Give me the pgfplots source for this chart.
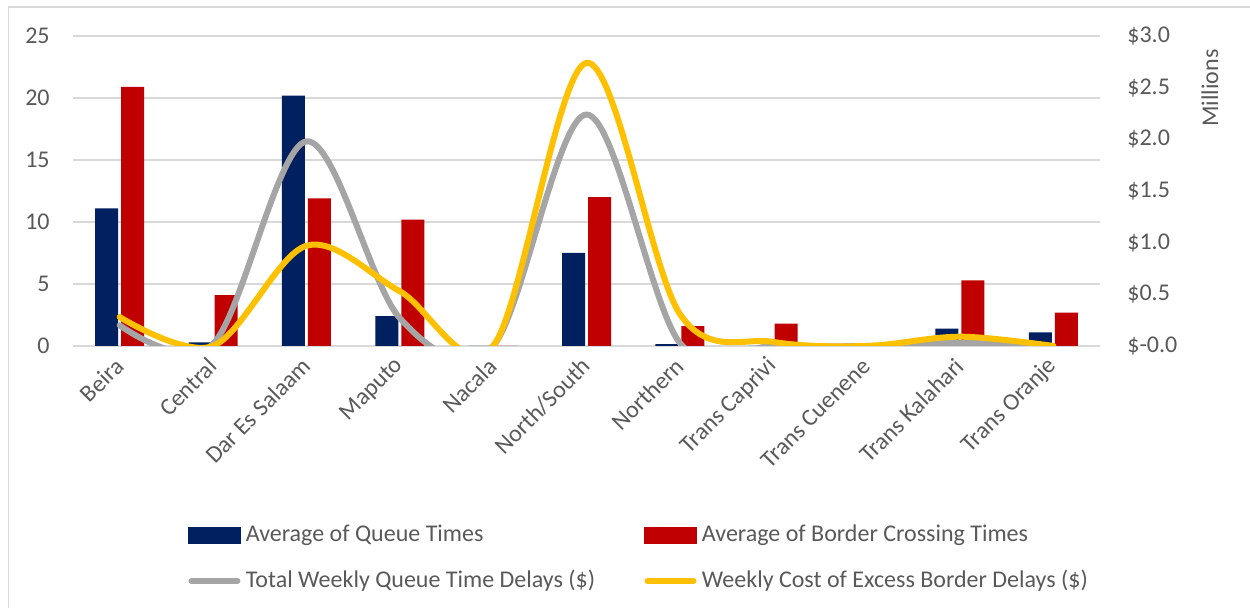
\documentclass[border=0pt]{standalone}
\usepackage{pgfplots}
\usepackage{pgfplotstable}
\pgfplotsset{compat=1.18}
\usepackage{fontspec}
\setmainfont{Carlito}

\definecolor{navy}{HTML}{002060}
\definecolor{crimson}{HTML}{C00000}
\definecolor{silver}{HTML}{A5A5A5}
\definecolor{amber}{HTML}{FFC000}
\definecolor{txt}{HTML}{595959}
\definecolor{gridc}{HTML}{D9D9D9}

% average times per corridor (hours)
\pgfplotstableread{
idx queue border
0  11.1  20.9
1  0.3   4.1
2  20.2  11.9
3  2.4   10.2
4  0     0
5  7.5   12.0
6  0.15  1.6
7  0     1.8
8  0     0
9  1.4   5.3
10 1.1   2.7
}\timesdata

% weekly delay costs (millions of dollars)
\pgfplotstableread{
idx total excess
0  0.20  0.28
1  0.02  0.00
2  1.98  0.97
3  0.27  0.53
4  0.00  0.00
5  2.24  2.74
6  0.03  0.31
7  0.00  0.04
8  0.00  0.00
9  0.03  0.09
10 0.00  0.00
}\costdata

\pgfplotsset{
  frame/.style={
    at={(36.5pt,131pt)}, anchor=south west,
    scale only axis, width=513.5pt, height=155pt,
    xmin=-0.5, xmax=10.5,
    axis line style={draw=none},
    major tick length=0pt,
  },
}

\begin{document}
\begin{tikzpicture}[font=\fontsize{12}{14}\selectfont]
\path[use as bounding box] (0,0) rectangle (625pt,304pt);
\draw[gridc, line width=0.8pt] (4.2pt,-5pt) rectangle (632pt,300.5pt);

\begin{axis}[
  frame,
  ymin=0, ymax=25,
  ybar=1.5pt, bar width=11.5pt,
  ytick={0,5,10,15,20,25},
  yticklabels={0,5,10,15,20,25},
  yticklabel style={text=txt, anchor=east, inner sep=0pt, xshift=-11.5pt},
  ymajorgrids,
  grid style={gridc, line width=0.8pt},
  xtick={0,...,10},
  xticklabels={Beira,Central,Dar Es Salaam,Maputo,Nacala,North/South,Northern,Trans Caprivi,Trans Cuenene,Trans Kalahari,Trans Oranje},
  xticklabel style={text=txt, yshift=-8pt, rotate=45, anchor=east, inner sep=0pt},
]
\addplot[fill=navy, draw=none] table[x=idx, y=queue] {\timesdata};
\addplot[fill=crimson, draw=none] table[x=idx, y=border] {\timesdata};
\end{axis}

\begin{axis}[
  frame,
  ymin=0, ymax=3,
  axis x line=none,
  axis y line*=right,
  ytick={0,0.5,1,1.5,2,2.5,3},
  yticklabels={\$-0.0,\$0.5,\$1.0,\$1.5,\$2.0,\$2.5,\$3.0},
  yticklabel style={text=txt, anchor=west, inner sep=0pt, xshift=13.5pt},
  legend columns=2,
  legend style={
    at={(axis description cs:0.112,-0.684)}, anchor=west,
    draw=none, fill=none, inner sep=0pt, outer sep=0pt,
    column sep=0pt, row sep=11pt,
    nodes={text=txt, inner xsep=2.5pt, inner ysep=0pt, text height=9pt, text depth=3pt},
    /tikz/every even column/.append style={column sep=22pt},
  },
  legend cell align=left,
]
\addlegendimage{legend image code/.code={\fill[navy] (0pt,-4pt) rectangle (26pt,4pt);}}
\addlegendentry{Average of Queue Times}
\addlegendimage{legend image code/.code={\fill[crimson] (0pt,-4pt) rectangle (26pt,4pt);}}
\addlegendentry{Average of Border Crossing Times}
\addplot[silver, line width=3pt, line cap=round, smooth, tension=0.55,
  legend image code/.code={\draw[silver, line width=3pt, line cap=round] (1.5pt,0pt) -- (24.5pt,0pt);}]
  table[x=idx, y=total] {\costdata};
\addlegendentry{Total Weekly Queue Time Delays (\$)}
\addplot[amber, line width=3pt, line cap=round, smooth, tension=0.55,
  legend image code/.code={\draw[amber, line width=3pt, line cap=round] (1.5pt,0pt) -- (24.5pt,0pt);}]
  table[x=idx, y=excess] {\costdata};
\addlegendentry{Weekly Cost of Excess Border Delays (\$)}
\end{axis}

\node[rotate=90, text=txt] at (605pt,260pt) {Millions};
\end{tikzpicture}
\end{document}
